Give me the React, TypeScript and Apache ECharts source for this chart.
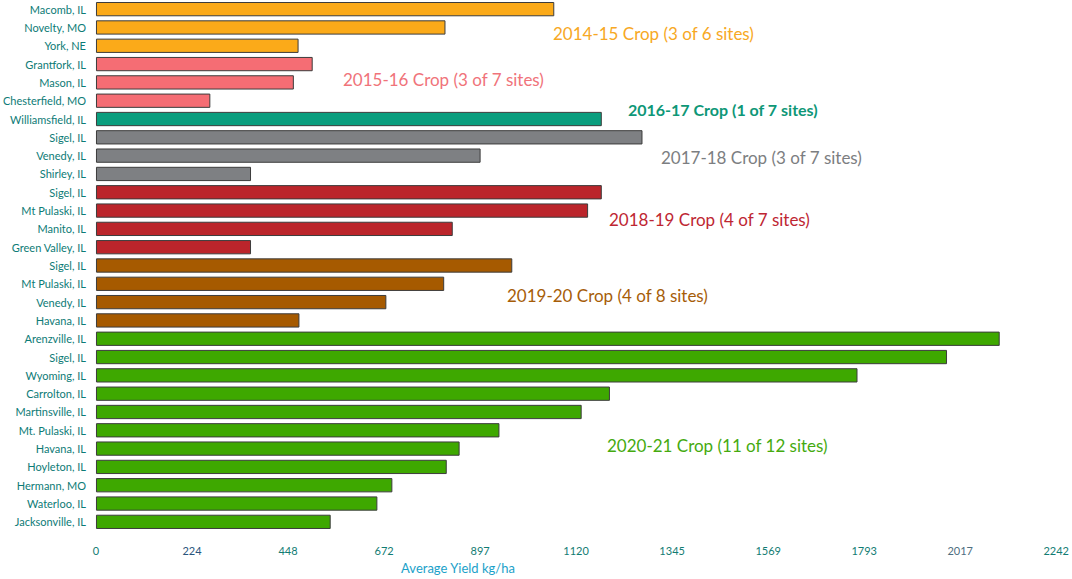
import React, { useEffect, useRef } from "react";
import * as echarts from "echarts";

// ---- Data ----
const sites1415 = ["Macomb, IL", "Novelty, MO", "York, NE"];
const yield1415 = [1070, 816, 473];
const sites1516 = ["Grantfork, IL", "Mason, IL", "Chesterfield, MO"];
const yield1516 = [506, 462, 267];
const sites1617 = ["Williamsfield, IL"];
const yield1617 = [1181];
const sites1718 = ["Sigel, IL", "Venedy, IL", "Shirley, IL"];
const yield1718 = [1276, 898, 362];
const sites1819 = ["Sigel, IL", "Mt Pulaski, IL", "Manito, IL", "Green Valley, IL"];
const yield1819 = [1181, 1149, 833, 362];
const sites1920 = ["Sigel, IL", "Mt Pulaski, IL", "Venedy, IL", "Havana, IL"];
const yield1920 = [972, 813, 678, 475];
const sites2021 = [
  "Arenzville, IL", "Sigel, IL", "Wyoming, IL", "Carrolton, IL", "Martinsville, IL",
  "Mt. Pulaski, IL", "Havana, IL", "Hoyleton, IL", "Hermann, MO", "Waterloo, IL", "Jacksonville, IL",
];
const yield2021 = [2110, 1987, 1778, 1200, 1134, 942, 849, 819, 692, 657, 548];

const cropLabels = [
  "2014-15 Crop (3 of 6 sites)",
  "2015-16 Crop (3 of 7 sites)",
  "2016-17 Crop (1 of 7 sites)",
  "2017-18 Crop (3 of 7 sites)",
  "2018-19 Crop (4 of 7 sites)",
  "2019-20 Crop (4 of 8 sites)",
  "2020-21 Crop (11 of 12 sites)",
];
const xTickLabels = ["0", "224", "448", "672", "897", "1120", "1345", "1569", "1793", "2017", "2242"];
const xTickStep = 224.2;
const xMax = 2242;

// ---- Styles ----
const barColors = ["#FBAA19", "#F56D74", "#0A9E7E", "#7E8083", "#BB252B", "#A65A00", "#3EA800"];
const textColors = ["#F7A824", "#F0737A", "#0E9777", "#7C7E81", "#BE2632", "#A65D08", "#45AA0F"];
const tickStyleKeys = ["t", "b", "t", "t", "t", "t", "t", "t", "t", "g", "t"];
// annotation positions (pixels): left, center-y, weight, size
const annoPos: [number, number, string, number][] = [
  [553, 33, "normal", 17],
  [343, 79, "normal", 17],
  [628, 109, "bold", 16],
  [661, 157, "normal", 17],
  [609, 219, "normal", 17],
  [507, 295, "normal", 17],
  [607, 445, "normal", 17],
];

const groups = [
  [sites1415, yield1415],
  [sites1516, yield1516],
  [sites1617, yield1617],
  [sites1718, yield1718],
  [sites1819, yield1819],
  [sites1920, yield1920],
  [sites2021, yield2021],
] as [string[], number[]][];

const FONT = "Lato, 'Noto Sans', sans-serif";

export default function App() {
  const ref = useRef<HTMLDivElement>(null);
  useEffect(() => {
    document.body.style.margin = "0";
    if (!ref.current) return;
    const chart = echarts.init(ref.current, undefined, { renderer: "svg" });
    const categories: string[] = [];
    const data: any[] = [];
    groups.forEach(([sites, vals], gi) => {
      sites.forEach((s, i) => {
        categories.push(s);
        data.push({ value: vals[i], itemStyle: { color: barColors[gi] } });
      });
    });
    const graphics: any[] = cropLabels.map((t, i) => ({
      type: "text",
      x: annoPos[i][0],
      y: annoPos[i][1],
      style: {
        text: t,
        fill: textColors[i],
        font: `${annoPos[i][2]} ${annoPos[i][3]}px ${FONT}`,
        verticalAlign: "middle",
      },
    }));
    graphics.push({
      type: "text",
      x: 458,
      y: 568,
      style: {
        text: "Average Yield kg/ha",
        fill: "#1BA1C9",
        font: `13px ${FONT}`,
        align: "center",
        verticalAlign: "middle",
      },
    });
    chart.setOption({
      animation: false,
      grid: { left: 92, right: 14, top: 0, bottom: 48, containLabel: false },
      xAxis: {
        type: "value",
        min: 0,
        max: xMax,
        interval: xTickStep,
        splitLine: { show: false },
        axisLine: { show: false },
        axisTick: { show: false },
        axisLabel: {
          margin: 14,
          fontFamily: FONT,
          fontSize: 11,
          color: "#127C73",
          showMaxLabel: true,
          formatter: (v: number) => {
            const i = Math.round(v / xTickStep);
            const lab = xTickLabels[i];
            if (lab === undefined) return "";
            return `{${tickStyleKeys[i]}|${lab}}`;
          },
          rich: {
            t: { color: "#127C73", fontFamily: FONT, fontSize: 11 },
            b: { color: "#2A557C", fontFamily: FONT, fontSize: 11 },
            g: { color: "#4E6E80", fontFamily: FONT, fontSize: 11 },
          },
        },
      },
      yAxis: {
        type: "category",
        data: categories,
        inverse: true,
        axisLine: { show: false },
        axisTick: { show: false },
        splitLine: { show: false },
        axisLabel: {
          margin: 10,
          fontFamily: FONT,
          fontSize: 11,
          color: "#0D7B76",
        },
      },
      series: [
        {
          type: "bar",
          data,
          barWidth: "78%",
          itemStyle: { borderColor: "#3C3C3C", borderWidth: 1 },
        },
      ],
      graphic: graphics,
    });
    return () => chart.dispose();
  }, []);
  return <div ref={ref} style={{ width: 1072, height: 579 }} />;
}
